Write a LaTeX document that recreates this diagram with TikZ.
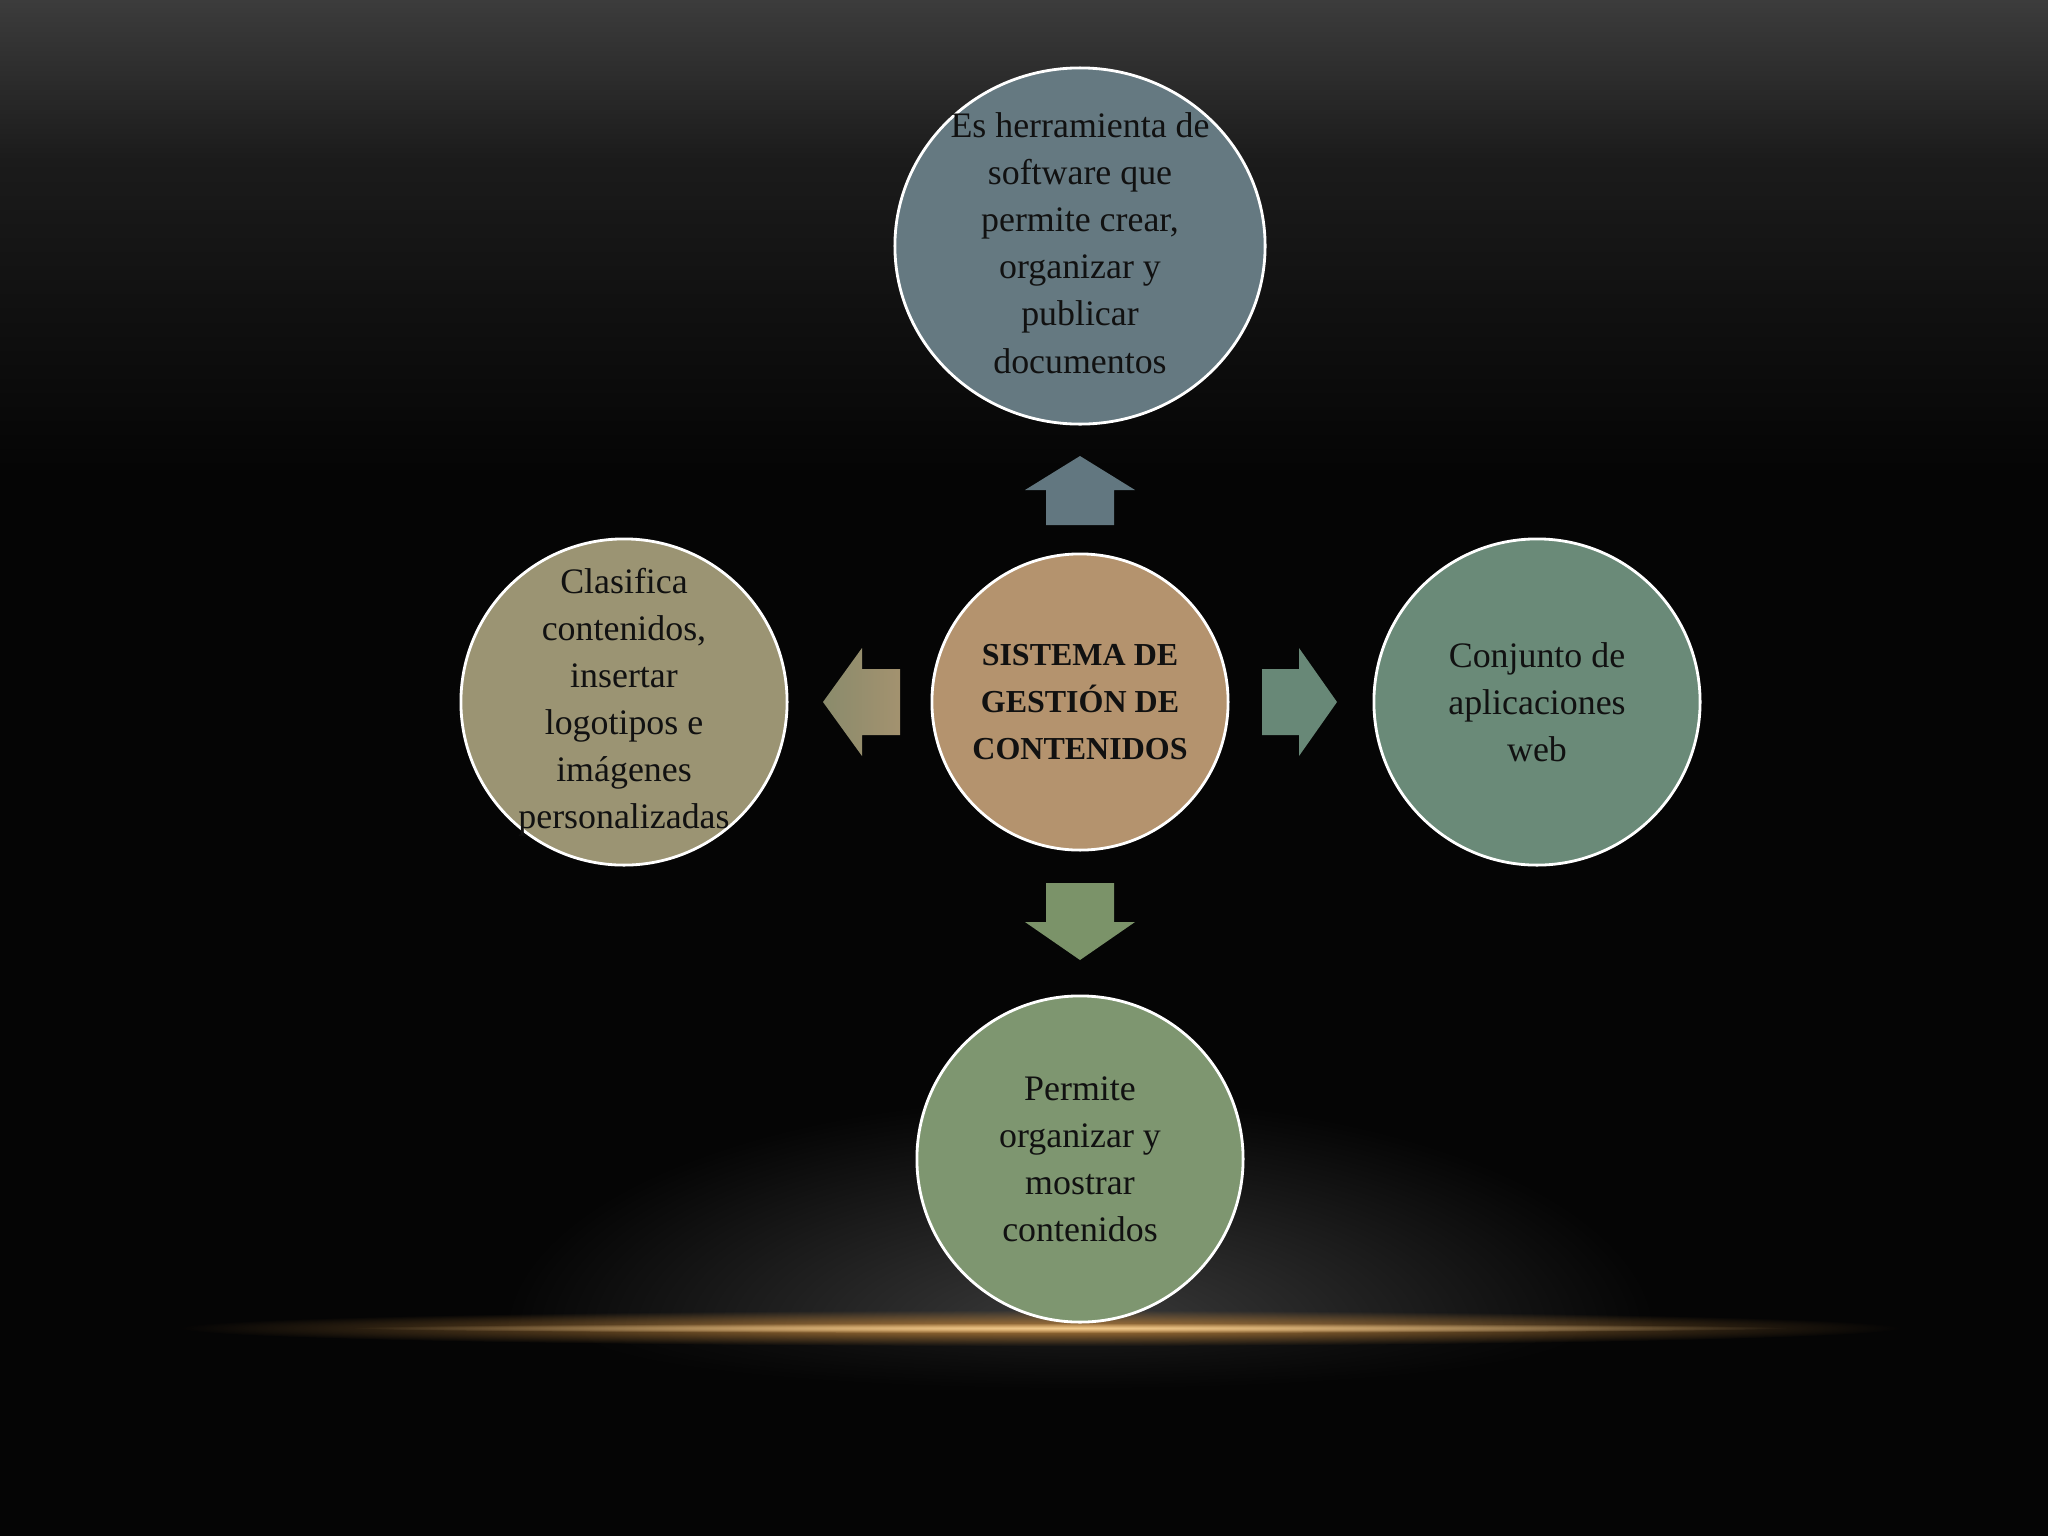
\documentclass[tikz,border=0pt]{standalone}
\usepackage{fontspec}
\setmainfont{Liberation Serif}
\usetikzlibrary{shapes.geometric,fadings}
\definecolor{bg}{HTML}{050505}
\definecolor{bgtop}{HTML}{3C3C3C}
\definecolor{bgmid}{HTML}{1B1B1B}
\definecolor{glow}{HTML}{3C3C3C}
\definecolor{gold}{HTML}{B07A38}
\definecolor{goldcore}{HTML}{F2CB8E}
\definecolor{topc}{HTML}{657981}
\definecolor{leftc}{HTML}{9B9473}
\definecolor{centerc}{HTML}{B4936E}
\definecolor{rightc}{HTML}{6A8A78}
\definecolor{bottomc}{HTML}{7E9670}
\definecolor{uparr}{HTML}{627780}
\definecolor{leftarrA}{HTML}{8A8B6C}
\definecolor{leftarrB}{HTML}{A3926F}
\definecolor{rightarr}{HTML}{688877}
\definecolor{downarr}{HTML}{7B9369}
\definecolor{ink}{HTML}{111111}
\tikzfading[name=softfade, inner color=transparent!0, outer color=transparent!100]
\begin{document}
\begin{tikzpicture}[x=0.01cm,y=-0.01cm,
  bubble/.style={draw=white, line width=0.8pt, inner sep=0pt},
  round/.style={bubble, circle},
  oval/.style={bubble, ellipse},
  txt/.style={inner sep=0pt, align=center, text=ink, font=\fontsize{10.2}{13.4}\selectfont}]
\useasboundingbox (0,0) rectangle (2048,1536);
\fill[bg] (0,0) rectangle (2048,1536);
\shade[top color=bgtop, bottom color=bgmid] (0,0) rectangle (2048,160);
\shade[top color=bgmid, bottom color=bg] (0,160) rectangle (2048,470);
% bottom glow
\begin{scope}
  \clip (0,0) rectangle (2048,1330);
  \fill[glow, path fading=softfade] (1080,1335) ellipse (580 and 240);
\end{scope}
\begin{scope}
  \clip (0,1330) rectangle (2048,1536);
  \fill[glow, opacity=0.35, path fading=softfade] (1080,1330) ellipse (520 and 60);
\end{scope}
\fill[gold, path fading=softfade] (1040,1328) ellipse (860 and 18);
\fill[goldcore, path fading=softfade] (1070,1328) ellipse (720 and 5);

% arrows
\fill[uparr] (1080,456) -- (1135,490) -- (1114,490) -- (1114,525) -- (1046,525) -- (1046,490) -- (1025,490) -- cycle;
\fill[downarr] (1046,883) -- (1114,883) -- (1114,922) -- (1135,922) -- (1080,960) -- (1025,922) -- (1046,922) -- cycle;
\shade[left color=leftarrA, right color=leftarrB] (823,702) -- (862,648) -- (862,669) -- (900,669) -- (900,735) -- (862,735) -- (862,756) -- cycle;
\fill[rightarr] (1262,669) -- (1299,669) -- (1299,648) -- (1337,702) -- (1299,756) -- (1299,735) -- (1262,735) -- cycle;

% circles
\node[round, fill=centerc, minimum size=2.96cm] (center) at (1080,702) {};
\node[oval, fill=topc, minimum width=3.70cm, minimum height=3.56cm] (top) at (1080,246) {};
\node[round, fill=leftc, minimum size=3.26cm] (left) at (624,702) {};
\node[round, fill=rightc, minimum size=3.26cm] (right) at (1537,702) {};
\node[round, fill=bottomc, minimum size=3.26cm] (bottom) at (1080,1159) {};

% texts
\node[txt, font=\fontsize{9.1}{13.4}\selectfont\bfseries] (centertext) at (center.center)
  {SISTEMA DE\\GESTIÓN DE\\CONTENIDOS};
\node[txt] (toptext) at ([yshift=0.03cm]top.center)
  {Es herramienta de\\software que\\permite crear,\\organizar y\\publicar\\documentos};
\node[txt] (lefttext) at (left.center)
  {Clasifica\\contenidos,\\insertar\\logotipos e\\imágenes\\personalizadas};
\node[txt] (righttext) at (right.center)
  {Conjunto de\\aplicaciones\\web};
\node[txt] (bottomtext) at (bottom.center)
  {Permite\\organizar y\\mostrar\\contenidos};
\end{tikzpicture}
\end{document}
